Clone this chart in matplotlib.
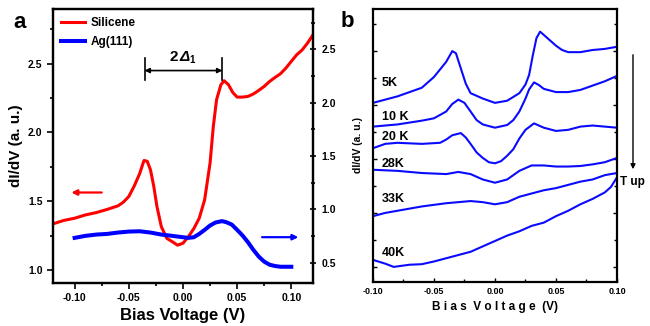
import numpy as np
import matplotlib
matplotlib.use("Agg")
import matplotlib.pyplot as plt
from matplotlib.ticker import MultipleLocator

plt.rcParams['font.family'] = ['Liberation Sans', 'DejaVu Sans']
plt.rcParams['font.weight'] = 'bold'

# ---- panel a: silicene (left axis) ----
v_si = [-0.12, -0.11, -0.10, -0.09, -0.08, -0.07, -0.06, -0.055, -0.05, -0.045,
        -0.04, -0.036, -0.033, -0.03, -0.027, -0.024, -0.02, -0.015, -0.01, -0.005,
        0.0, 0.005, 0.01, 0.015, 0.02, 0.025, 0.028, 0.031, 0.035, 0.038,
        0.042, 0.046, 0.05, 0.055, 0.06, 0.065, 0.07, 0.075, 0.08, 0.085,
        0.09, 0.095, 0.10, 0.105, 0.11, 0.115, 0.12]
g_si = [1.335, 1.36, 1.376, 1.40, 1.417, 1.44, 1.466, 1.493, 1.534, 1.61,
        1.70, 1.796, 1.79, 1.728, 1.61, 1.46, 1.315, 1.23, 1.206, 1.18,
        1.194, 1.242, 1.30, 1.376, 1.51, 1.777, 2.043, 2.238, 2.347, 2.376,
        2.347, 2.29, 2.257, 2.257, 2.262, 2.28, 2.306, 2.335, 2.371, 2.40,
        2.427, 2.468, 2.517, 2.565, 2.60, 2.65, 2.71]

# ---- panel a: Ag(111) (right axis) ----
v_ag = [-0.10, -0.09, -0.08, -0.07, -0.06, -0.05, -0.04, -0.03, -0.02, -0.01,
        0.0, 0.005, 0.01, 0.015, 0.02, 0.025, 0.03, 0.036, 0.04, 0.045,
        0.05, 0.055, 0.06, 0.065, 0.07, 0.075, 0.08, 0.085, 0.09, 0.10]
g_ag = [0.733, 0.752, 0.764, 0.77, 0.783, 0.792, 0.795, 0.783, 0.764, 0.752,
        0.739, 0.733, 0.739, 0.77, 0.808, 0.849, 0.877, 0.89, 0.88, 0.858,
        0.808, 0.755, 0.692, 0.62, 0.557, 0.51, 0.481, 0.469, 0.462, 0.462]

# ---- panel b: temperature series ----
temps = ['5K', '10 K', '20 K', '28K', '33K', '40K']
v_5 = [-0.10, -0.08, -0.06, -0.05, -0.04, -0.035, -0.032, -0.028, -0.024, -0.02,
       -0.01, 0.0, 0.01, 0.02, 0.025, 0.028, 0.031, 0.034, 0.037, 0.04,
       0.045, 0.05, 0.055, 0.06, 0.07, 0.08, 0.09, 0.10]
g_5 = [2.02, 2.08, 2.16, 2.26, 2.40, 2.50, 2.48, 2.34, 2.20, 2.11,
       2.06, 2.02, 2.04, 2.11, 2.19, 2.28, 2.46, 2.62, 2.68, 2.65,
       2.60, 2.55, 2.51, 2.49, 2.49, 2.51, 2.52, 2.54]
v_10 = [-0.10, -0.08, -0.06, -0.05, -0.04, -0.035, -0.03, -0.025, -0.02, -0.015,
        -0.01, 0.0, 0.01, 0.015, 0.02, 0.025, 0.028, 0.032, 0.036, 0.04,
        0.05, 0.06, 0.07, 0.08, 0.09, 0.10]
g_10 = [1.80, 1.82, 1.855, 1.877, 1.94, 2.01, 2.05, 2.02, 1.94, 1.86,
        1.82, 1.79, 1.815, 1.86, 1.94, 2.06, 2.145, 2.21, 2.185, 2.15,
        2.12, 2.12, 2.14, 2.18, 2.22, 2.27]
v_20 = [-0.10, -0.09, -0.08, -0.06, -0.045, -0.04, -0.035, -0.028, -0.024, -0.02,
        -0.015, -0.01, -0.005, 0.0, 0.005, 0.01, 0.015, 0.02, 0.025, 0.032,
        0.04, 0.05, 0.06, 0.07, 0.08, 0.09, 0.10]
g_20 = [1.60, 1.64, 1.65, 1.64, 1.65, 1.68, 1.72, 1.74, 1.70, 1.64,
        1.56, 1.51, 1.47, 1.46, 1.48, 1.53, 1.59, 1.69, 1.77, 1.83,
        1.79, 1.76, 1.77, 1.80, 1.81, 1.80, 1.79]
v_28 = [-0.10, -0.08, -0.06, -0.04, -0.03, -0.02, -0.01, 0.0, 0.01, 0.02,
        0.03, 0.04, 0.05, 0.06, 0.07, 0.08, 0.09, 0.10]
g_28 = [1.40, 1.39, 1.37, 1.36, 1.38, 1.36, 1.31, 1.28, 1.31, 1.39,
        1.44, 1.44, 1.43, 1.43, 1.435, 1.45, 1.47, 1.51]
v_33 = [-0.10, -0.09, -0.08, -0.06, -0.04, -0.02, -0.01, 0.0, 0.01, 0.02,
        0.03, 0.04, 0.05, 0.06, 0.07, 0.08, 0.09, 0.10]
g_33 = [0.97, 1.00, 1.02, 1.06, 1.09, 1.11, 1.10, 1.08, 1.10, 1.15,
        1.18, 1.21, 1.23, 1.26, 1.29, 1.31, 1.35, 1.37]
v_40 = [-0.10, -0.09, -0.083, -0.07, -0.06, -0.05, -0.04, -0.03, -0.02, -0.01,
        0.0, 0.01, 0.02, 0.03, 0.04, 0.05, 0.06, 0.07, 0.08, 0.09,
        0.095, 0.10]
g_40 = [0.565, 0.53, 0.50, 0.52, 0.525, 0.55, 0.58, 0.61, 0.64, 0.69,
        0.74, 0.79, 0.83, 0.88, 0.91, 0.97, 1.02, 1.08, 1.13, 1.19,
        1.24, 1.33]
label_y = [2.20, 1.89, 1.70, 1.45, 1.13, 0.63]

fig = plt.figure(figsize=(6.5, 3.26), dpi=100)

# ================= panel a =================
ax = fig.add_axes([0.0815, 0.132, 0.40, 0.8405])
ax2 = ax.twinx()
ax.plot(v_si, g_si, color='#ff0000', lw=2.2, label='Silicene')
ax2.plot(v_ag, g_ag, color='#0000ff', lw=2.9)
ax.plot([], [], color='#0000ff', lw=2.9, label='Ag(111)')
ax.set_xlim(-0.12, 0.12)
ax.set_ylim(0.905, 2.898)
ax2.set_ylim(0.31, 2.88)
ax.xaxis.set_major_locator(MultipleLocator(0.05))
ax.xaxis.set_minor_locator(MultipleLocator(0.025))
ax.yaxis.set_major_locator(MultipleLocator(0.5))
ax.yaxis.set_minor_locator(MultipleLocator(0.25))
ax2.yaxis.set_major_locator(MultipleLocator(0.5))
ax2.yaxis.set_minor_locator(MultipleLocator(0.25))
ax.set_xticks([-0.10, -0.05, 0.0, 0.05, 0.10])
ax.set_xticklabels(['-0.10', '-0.05', '0.00', '0.05', '0.10'])
ax.tick_params(which='both', direction='out', labelsize=7.5, width=1.2)
ax.tick_params(which='major', length=4)
ax.tick_params(which='minor', length=2.5)
ax2.tick_params(which='both', direction='inout', labelsize=7.5, width=1.2)
ax2.tick_params(which='major', length=5)
ax2.tick_params(which='minor', length=3)
for a in (ax, ax2):
    for s in a.spines.values():
        s.set_linewidth(1.6)
    for lab in a.get_xticklabels() + a.get_yticklabels():
        lab.set_fontweight('bold')
ax.set_xlabel('Bias Voltage (V)', fontsize=12, fontweight='bold', labelpad=3)
ax.set_ylabel('dI/dV (a. u.)', fontsize=11, fontweight='bold', labelpad=4)
ax.legend(loc='upper left', frameon=False, handlelength=2.0, handletextpad=0.5,
          borderaxespad=0.3, labelspacing=0.6, bbox_to_anchor=(0.0, 1.0),
          prop={'weight': 'bold', 'size': 8.5})

# 2Delta gap marker
ax.plot([-0.0355, -0.0355], [2.383, 2.544], color='black', lw=1.2)
ax.plot([0.0364, 0.0364], [2.383, 2.544], color='black', lw=1.2)
ax.annotate('', xy=(0.0364, 2.45), xytext=(-0.0355, 2.45),
            arrowprops=dict(arrowstyle='<|-|>', color='black', lw=1.2,
                            mutation_scale=7, shrinkA=0, shrinkB=0))
ax.text(-0.0045, 2.50, '2', fontsize=11, fontweight='bold', ha='right', va='bottom')
ax.text(-0.0035, 2.50, '\u0394', fontsize=11, fontweight='bold', style='italic',
        ha='left', va='bottom')
ax.text(0.0055, 2.49, '1', fontsize=7, fontweight='bold', ha='left', va='bottom')

# axis arrows
ax.annotate('', xy=(-0.103, 1.563), xytext=(-0.075, 1.563),
            arrowprops=dict(arrowstyle='-|>', color='#ff0000', lw=1.6,
                            mutation_scale=8, shrinkA=0, shrinkB=0))
ax.annotate('', xy=(0.1065, 1.238), xytext=(0.073, 1.238),
            arrowprops=dict(arrowstyle='-|>', color='#0000ff', lw=1.6,
                            mutation_scale=8, shrinkA=0, shrinkB=0))
fig.text(0.03, 0.93, 'a', fontsize=16, fontweight='bold', ha='center', va='center')

# ================= panel b =================
bx = fig.add_axes([0.5738, 0.135, 0.3754, 0.8374])
series = [(v_5, g_5), (v_10, g_10), (v_20, g_20), (v_28, g_28), (v_33, g_33), (v_40, g_40)]
for (vv, gg), t, ly in zip(series, temps, label_y):
    bx.plot(vv, gg, color='#0a0aff', lw=1.5)
    bx.text(-0.093, ly, t, fontsize=9, fontweight='bold', ha='left', va='center')
bx.set_xlim(-0.10, 0.10)
bx.set_ylim(0.36, 2.89)
bx.xaxis.set_major_locator(MultipleLocator(0.05))
bx.xaxis.set_minor_locator(MultipleLocator(0.025))
bx.yaxis.set_major_locator(MultipleLocator(0.5))
bx.yaxis.set_minor_locator(MultipleLocator(0.25))
bx.set_xticks([-0.10, -0.05, 0.0, 0.05, 0.10])
bx.set_xticklabels(['-0.10', '-0.05', '0.00', '0.05', '0.10'])
bx.set_yticklabels([])
bx.tick_params(which='both', direction='in', labelsize=6.5, width=1.0,
               top=False, right=True)
bx.tick_params(which='major', length=3)
bx.tick_params(which='minor', length=2)
for lab in bx.get_xticklabels():
    lab.set_fontweight('bold')
for s in bx.spines.values():
    s.set_linewidth(1.6)
bx.set_xlabel('B i a s  V o l t a g e  (V)', fontsize=8.5, fontweight='bold', labelpad=4)
bx.set_ylabel('dI/dV (a. u.)', fontsize=7.5, fontweight='bold', labelpad=4)
fig.text(0.535, 0.935, 'b', fontsize=16, fontweight='bold', ha='center', va='center')

# temperature arrow
fig.patches.append(matplotlib.patches.FancyArrowPatch(
    (633 / 650, 1 - 52 / 326), (633 / 650, 1 - 172 / 326),
    transform=fig.transFigure, arrowstyle='-|>', mutation_scale=7,
    color='black', lw=1.0))
fig.text(620 / 650, 1 - 182 / 326, 'T up', fontsize=8.5, fontweight='bold',
         ha='left', va='center')

fig.savefig('out.png', dpi=100)
